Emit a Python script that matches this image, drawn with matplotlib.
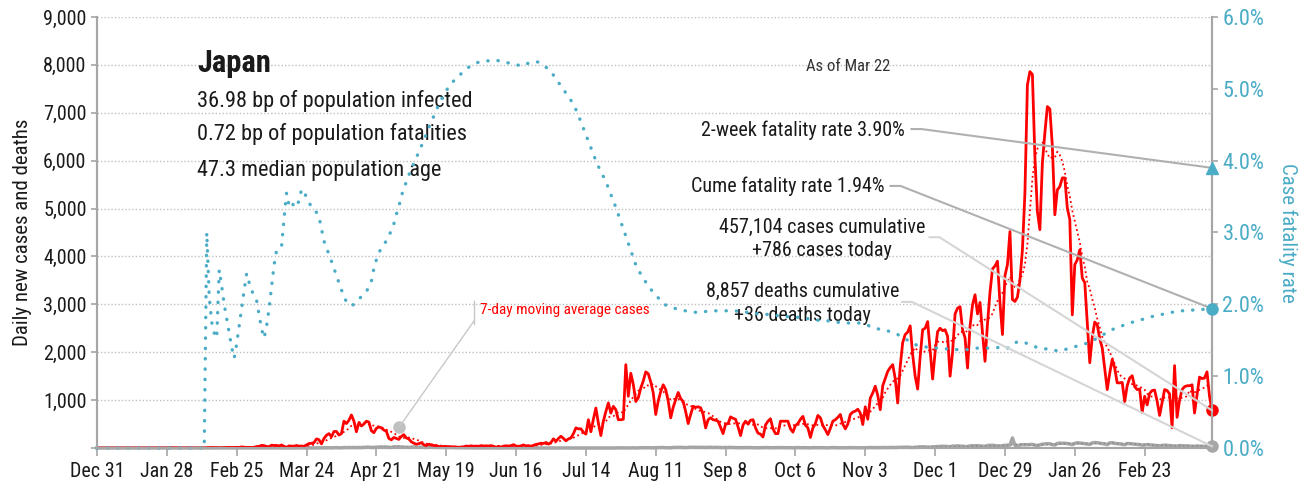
import matplotlib
matplotlib.use('Agg')
import matplotlib.pyplot as plt
from matplotlib.ticker import FuncFormatter, FixedLocator
import matplotlib.dates as mdates
import pandas as pd

# condensed sans, like the reference
plt.rcParams['font.family'] = ['Roboto Condensed', 'DejaVu Sans']

# daily new cases, Dec 31 2019 .. Mar 22 2021
cases_2019_12 = [0]
cases_2020_01 = [0, 0, 0, 0, 0, 0, 0, 0, 0, 0, 0, 0, 0, 0, 0, 1, 0, 0, 0, 0, 0, 0, 0, 1, 1, 1, 0, 2, 1, 4, 3]
cases_2020_02 = [1, 0, 0, 0, 2, 0, 0, 1, 0, 0, 0, 1, 5, 8, 9, 7, 6, 5, 4, 7, 12, 13, 9, 12, 14, 11, 22, 17, 12]
cases_2020_03 = [14, 10, 14, 30, 33, 55, 48, 32, 26, 59, 52, 54, 41, 64, 25, 15, 44, 39, 39, 52, 37, 42, 35, 65,
                 94, 96, 113, 190, 173, 86, 200]
cases_2020_04 = [266, 300, 235, 345, 345, 270, 300, 560, 510, 580, 690, 560, 340, 530, 460, 500, 560, 540, 360, 320,
                 410, 440, 420, 375, 350, 200, 170, 220, 200, 180]
cases_2020_05 = [240, 280, 210, 190, 130, 100, 80, 90, 110, 70, 50, 80, 60, 55, 40, 35, 20, 35, 25, 30, 20, 25, 20,
                 15, 20, 25, 40, 35, 45, 35, 40]
cases_2020_06 = [35, 50, 40, 45, 40, 50, 35, 15, 35, 20, 40, 45, 40, 50, 70, 40, 35, 45, 65, 40, 50, 35, 55, 75, 85,
                 100, 95, 115, 80, 115]
cases_2020_07 = [190, 140, 200, 245, 200, 150, 190, 210, 300, 420, 400, 400, 330, 290, 590, 340, 600, 835, 520, 260,
                 560, 760, 940, 730, 870, 800, 590, 590, 600, 1740, 1080]
cases_2020_08 = [1560, 1330, 970, 1050, 1250, 1400, 1590, 1550, 1380, 1150, 700, 980, 1180, 1320, 1220, 980, 630,
                 850, 1010, 1160, 1030, 970, 760, 510, 700, 870, 850, 860, 840, 700, 420]
cases_2020_09 = [590, 630, 590, 580, 560, 430, 300, 500, 510, 650, 620, 600, 440, 260, 480, 560, 500, 580, 590, 420,
                 310, 290, 230, 480, 560, 610, 400, 300, 300, 560]
cases_2020_10 = [560, 560, 560, 400, 330, 470, 510, 600, 660, 480, 420, 220, 420, 510, 680, 630, 470, 380, 280, 410,
                 560, 590, 640, 700, 500, 400, 500, 700, 750, 770, 810]
cases_2020_11 = [730, 490, 860, 600, 1040, 1150, 1290, 1100, 800, 1300, 1450, 1600, 1680, 1740, 1450, 940, 1700,
                 2200, 2370, 2420, 2550, 1950, 1500, 1230, 1900, 2470, 2500, 2640, 2050, 1440]
cases_2020_12 = [2000, 2430, 2500, 2450, 2470, 2330, 1500, 2000, 2800, 2920, 2950, 2470, 2300, 1670, 2540, 2990,
                 3200, 2800, 3040, 2400, 1810, 2600, 3250, 3740, 3800, 3900, 3030, 2370, 3600, 3830, 4520]
cases_2021_01 = [3100, 3060, 3150, 3500, 4140, 5320, 7580, 7860, 7800, 6090, 4940, 4560, 5950, 6580, 7130, 7080,
                 6300, 4870, 5390, 5460, 5640, 5640, 5010, 4770, 2780, 3830, 3930, 4140, 3550, 3450, 2600]
cases_2021_02 = [1780, 2320, 2630, 2570, 2280, 2090, 1660, 1220, 1560, 1850, 1670, 1360, 1360, 1370, 970, 1300,
                 1460, 1510, 1280, 1220, 1230, 740, 1080, 900, 1140, 1200, 1210, 980]
cases_2021_03 = [680, 950, 1220, 1200, 1130, 420, 1720, 640, 1000, 1220, 1280, 1300, 1300, 1320, 730, 1100, 1480,
                 1450, 1460, 1590, 1080, 786]

# daily deaths
deaths_2019_12 = [0]
deaths_2020_01 = [0, 0, 0, 0, 0, 0, 0, 0, 0, 0, 0, 0, 0, 0, 0, 0, 0, 0, 0, 0, 0, 0, 0, 0, 0, 0, 0, 0, 0, 0, 0]
deaths_2020_02 = [0, 0, 0, 0, 0, 0, 0, 0, 0, 0, 0, 0, 1, 0, 0, 0, 0, 0, 0, 1, 0, 1, 0, 0, 1, 1, 0, 1, 0]
deaths_2020_03 = [0, 1, 0, 1, 1, 1, 0, 0, 1, 0, 2, 3, 1, 2, 0, 1, 3, 1, 0, 2, 1, 0, 1, 2, 3, 1, 2, 1, 2, 4, 3]
deaths_2020_04 = [4, 5, 3, 6, 8, 4, 3, 9, 7, 11, 8, 12, 7, 10, 9, 13, 15, 18, 10, 12, 16, 20, 22, 19, 21, 14, 12,
                  25, 23, 26]
deaths_2020_05 = [20, 18, 14, 12, 16, 22, 19, 14, 17, 13, 10, 15, 21, 12, 11, 9, 8, 10, 13, 9, 11, 7, 6, 5, 8, 4, 6,
                  3, 5, 2, 3]
deaths_2020_06 = [2, 1, 3, 0, 2, 1, 0, 1, 2, 1, 0, 3, 1, 0, 2, 1, 1, 0, 2, 0, 1, 0, 1, 2, 0, 1, 1, 0, 0, 1]
deaths_2020_07 = [1, 0, 0, 1, 0, 1, 2, 0, 1, 0, 0, 1, 0, 1, 0, 0, 1, 0, 0, 1, 2, 0, 1, 1, 0, 0, 3, 2, 1, 2, 1]
deaths_2020_08 = [2, 3, 1, 4, 5, 6, 5, 7, 4, 3, 6, 8, 9, 10, 6, 5, 4, 11, 12, 14, 13, 10, 8, 12, 15, 14, 13, 12, 10,
                  9, 11]
deaths_2020_09 = [12, 14, 11, 13, 10, 9, 8, 11, 10, 12, 9, 8, 6, 7, 10, 11, 9, 7, 6, 5, 4, 6, 8, 9, 7, 6, 5, 8, 9, 8]
deaths_2020_10 = [7, 6, 5, 8, 4, 6, 9, 5, 7, 6, 4, 3, 8, 6, 5, 7, 6, 4, 3, 7, 8, 6, 5, 4, 5, 3, 8, 7, 6, 5, 6]
deaths_2020_11 = [5, 4, 6, 7, 9, 8, 5, 6, 7, 10, 9, 8, 12, 10, 9, 13, 15, 14, 16, 17, 12, 11, 14, 20, 22, 25, 21, 18,
                  17, 24]
deaths_2020_12 = [28, 30, 33, 37, 35, 32, 25, 40, 38, 45, 39, 36, 30, 28, 44, 48, 46, 50, 42, 38, 35, 52, 55, 58, 50,
                  45, 40, 48, 56, 60, 62]
deaths_2021_01 = [210, 55, 48, 60, 70, 65, 68, 72, 75, 60, 50, 66, 80, 85, 90, 88, 70, 62, 95, 102, 98, 100, 92, 85,
                  70, 95, 110, 105, 98, 90, 80]
deaths_2021_02 = [75, 105, 115, 110, 100, 92, 85, 70, 105, 112, 98, 90, 88, 76, 68, 95, 92, 85, 80, 75, 70, 58, 62,
                  72, 66, 60, 55, 50]
deaths_2021_03 = [45, 52, 60, 55, 48, 44, 40, 38, 50, 48, 42, 45, 40, 38, 35, 42, 40, 38, 36, 34, 30, 36]

# case fatality rate (%), right axis
cfr_2019_12 = [0]
cfr_2020_01 = [0, 0, 0, 0, 0, 0, 0, 0, 0, 0, 0, 0, 0, 0, 0, 0, 0, 0, 0, 0, 0, 0, 0, 0, 0, 0, 0, 0, 0, 0, 0]
cfr_2020_02 = [0, 0, 0, 0, 0, 0, 0, 0, 0, 0, 0, 0, 3.00, 2.10, 1.75, 1.60, 1.53, 2.48, 2.25, 2.00, 1.80, 1.60, 1.40,
               1.25, 1.45, 1.70, 1.95, 2.20, 2.43]
cfr_2020_03 = [2.30, 2.20, 2.10, 2.05, 1.85, 1.65, 1.53, 1.70, 1.95, 2.25, 2.55, 2.75, 2.80, 2.81, 3.20, 3.55, 3.38,
               3.43, 3.36, 3.35, 3.45, 3.60, 3.58, 3.48, 3.42, 3.35, 3.30, 3.28, 3.22, 3.05, 2.88]
cfr_2020_04 = [2.78, 2.70, 2.60, 2.50, 2.40, 2.30, 2.20, 2.12, 2.03, 2.00, 1.98, 2.00, 2.03, 2.07, 2.11, 2.14, 2.18,
               2.24, 2.32, 2.50, 2.62, 2.72, 2.78, 2.84, 2.88, 2.95, 3.03, 3.12, 3.25, 3.36]
cfr_2020_05 = [3.50, 3.62, 3.70, 3.80, 3.88, 3.96, 4.04, 4.12, 4.20, 4.28, 4.37, 4.46, 4.54, 4.62, 4.70, 4.78, 4.85,
               4.91, 4.97, 5.03, 5.07, 5.11, 5.15, 5.18, 5.21, 5.24, 5.27, 5.30, 5.32, 5.34, 5.36]
cfr_2020_06 = [5.37, 5.38, 5.38, 5.39, 5.39, 5.40, 5.40, 5.40, 5.39, 5.39, 5.38, 5.37, 5.36, 5.35, 5.34, 5.33, 5.33,
               5.32, 5.32, 5.34, 5.36, 5.37, 5.38, 5.38, 5.37, 5.35, 5.33, 5.30, 5.27, 5.24]
cfr_2020_07 = [5.19, 5.14, 5.09, 5.04, 4.99, 4.94, 4.89, 4.84, 4.78, 4.71, 4.63, 4.54, 4.45, 4.36, 4.27, 4.18, 4.09,
               4.00, 3.92, 3.85, 3.78, 3.71, 3.62, 3.53, 3.44, 3.35, 3.25, 3.15, 3.05, 2.95, 2.85]
cfr_2020_08 = [2.75, 2.65, 2.55, 2.48, 2.42, 2.36, 2.31, 2.26, 2.21, 2.17, 2.13, 2.09, 2.05, 2.01, 1.99, 1.97, 1.96,
               1.95, 1.94, 1.93, 1.92, 1.91, 1.91, 1.90, 1.90, 1.89, 1.89, 1.89, 1.89, 1.89, 1.90]
cfr_2020_09 = [1.90, 1.91, 1.91, 1.91, 1.91, 1.91, 1.91, 1.91, 1.91, 1.91, 1.91, 1.91, 1.90, 1.90, 1.90, 1.89, 1.89,
               1.88, 1.88, 1.87, 1.87, 1.87, 1.86, 1.86, 1.86, 1.85, 1.85, 1.85, 1.84, 1.84]
cfr_2020_10 = [1.84, 1.83, 1.83, 1.83, 1.82, 1.82, 1.82, 1.81, 1.81, 1.80, 1.80, 1.79, 1.79, 1.78, 1.78, 1.78, 1.77,
               1.77, 1.77, 1.76, 1.76, 1.76, 1.75, 1.75, 1.75, 1.75, 1.74, 1.74, 1.74, 1.74, 1.74]
cfr_2020_11 = [1.74, 1.73, 1.72, 1.71, 1.69, 1.68, 1.67, 1.66, 1.65, 1.64, 1.64, 1.63, 1.62, 1.61, 1.60, 1.58, 1.56,
               1.54, 1.52, 1.50, 1.48, 1.46, 1.44, 1.43, 1.42, 1.41, 1.41, 1.40, 1.40, 1.40]
cfr_2020_12 = [1.39, 1.39, 1.39, 1.39, 1.38, 1.38, 1.38, 1.37, 1.37, 1.37, 1.37, 1.37, 1.37, 1.37, 1.38, 1.38, 1.39,
               1.39, 1.39, 1.39, 1.39, 1.39, 1.39, 1.40, 1.40, 1.40, 1.39, 1.38, 1.38, 1.39, 1.41]
cfr_2021_01 = [1.43, 1.46, 1.48, 1.48, 1.48, 1.47, 1.45, 1.43, 1.42, 1.41, 1.40, 1.39, 1.39, 1.38, 1.38, 1.37, 1.37,
               1.36, 1.35, 1.35, 1.36, 1.37, 1.38, 1.39, 1.40, 1.41, 1.42, 1.43, 1.44, 1.45, 1.46]
cfr_2021_02 = [1.47, 1.49, 1.51, 1.53, 1.55, 1.57, 1.59, 1.61, 1.63, 1.65, 1.66, 1.68, 1.69, 1.70, 1.72, 1.73, 1.74,
               1.75, 1.76, 1.77, 1.78, 1.79, 1.80, 1.81, 1.82, 1.83, 1.84, 1.85]
cfr_2021_03 = [1.86, 1.86, 1.87, 1.88, 1.88, 1.89, 1.89, 1.90, 1.90, 1.91, 1.91, 1.92, 1.92, 1.92, 1.92, 1.93, 1.93,
               1.93, 1.93, 1.94, 1.94, 1.94]

two_week_cfr = 3.90
cume_cfr = 1.94
ma_anchor_date = '2020-04-30'   # grey dot used by the "7-day moving average" callout
ma_anchor_value = 445

tick_dates = pd.date_range('2019-12-31', periods=16, freq='28D')

months = ['2019_12', '2020_01', '2020_02', '2020_03', '2020_04', '2020_05', '2020_06', '2020_07', '2020_08',
          '2020_09', '2020_10', '2020_11', '2020_12', '2021_01', '2021_02', '2021_03']
g = globals()
dates = pd.date_range('2019-12-31', '2021-03-22')
cases = pd.Series(sum((g['cases_' + m] for m in months), []), index=dates)
deaths = pd.Series(sum((g['deaths_' + m] for m in months), []), index=dates)
cfr = pd.Series(sum((g['cfr_' + m] for m in months), []), index=dates)
cases_ma = cases.rolling(7, min_periods=1).mean()
deaths_ma = deaths.rolling(7, min_periods=1).mean()

RED = '#FF0000'
TEAL = '#4BACC6'
GREY = '#A6A6A6'
TXT = '#1A1A1A'

fig = plt.figure(figsize=(13.06, 4.88), dpi=100)
ax = fig.add_axes([0.07427, 0.08197, 0.85375, 0.88320])
ax2 = ax.twinx()

ax.plot(dates, deaths, color=GREY, lw=2.5, clip_on=False, zorder=3)
ax.plot(dates, deaths_ma, color='#8C8C8C', lw=1.2, ls=':', zorder=3)
ax.plot(dates, cases, color=RED, lw=2.0, zorder=4)
ax.plot(dates, cases_ma, color=RED, lw=1.3, ls=':', zorder=4)
ax.plot(dates[-1], cases.iloc[-1], 'o', color=RED, ms=8, clip_on=False, zorder=6)
ax.plot(dates[-1], deaths.iloc[-1], 'o', color=GREY, ms=8, clip_on=False, zorder=6)
ax.plot(pd.Timestamp(ma_anchor_date), ma_anchor_value, 'o', color='#C0C0C0', ms=8, zorder=6)

ax2.plot(dates, cfr, color=TEAL, lw=2.4, ls=(0, (0.1, 3.0)), dash_capstyle='round', clip_on=False)
ax2.plot(dates[-1], cume_cfr, 'o', color=TEAL, ms=8, clip_on=False, zorder=6)
ax2.plot(dates[-1], two_week_cfr, '^', color=TEAL, ms=9, clip_on=False, zorder=6)

ax.set_xlim(dates[0], dates[-1])
ax.set_ylim(0, 9000)
ax2.set_ylim(0, 6)

ax.xaxis.set_major_locator(FixedLocator(mdates.date2num(tick_dates)))
ax.xaxis.set_major_formatter(FuncFormatter(
    lambda v, p: mdates.num2date(v).strftime('%b ') + str(mdates.num2date(v).day)))
ax.set_yticks(range(0, 9001, 1000))
ax.yaxis.set_major_formatter(FuncFormatter(lambda v, p: '' if v == 0 else f'{v:,.0f}'))
ax2.set_yticks([0, 1, 2, 3, 4, 5, 6])
ax2.yaxis.set_major_formatter(FuncFormatter(lambda v, p: f'{v:.1f}%'))

ax.yaxis.grid(True, color='#BFBFBF', lw=1, ls=(0, (1, 1.5)))
ax.set_axisbelow(True)
for a in (ax, ax2):
    a.spines['top'].set_visible(False)
    for s in ('left', 'right', 'bottom'):
        a.spines[s].set_color(GREY)
        a.spines[s].set_linewidth(1.5)
ax.tick_params(axis='x', length=6, width=1.2, color=GREY, labelsize=14.5, labelcolor=TXT, pad=4)
ax.tick_params(axis='y', length=4, width=1.2, color=GREY, labelsize=14.5, labelcolor=TXT)
ax2.tick_params(axis='y', length=4, width=1.2, color=GREY, labelsize=16, labelcolor=TEAL)
ax.set_ylabel('Daily new cases and deaths', fontsize=15, color=TXT, labelpad=8)
ax2.set_ylabel('Case fatality rate', fontsize=15, color=TEAL, rotation=270, labelpad=24)

T = ax.transAxes
ax.text(0.0897, 0.893, 'Japan', transform=T, fontsize=22, fontweight='bold', color=TXT, va='center')
ax.text(0.0897, 0.805, '36.98 bp of population infected', transform=T, fontsize=16, color=TXT, va='center')
ax.text(0.0897, 0.7285, '0.72 bp of population fatalities', transform=T, fontsize=16, color=TXT, va='center')
ax.text(0.0897, 0.645, '47.3 median population age', transform=T, fontsize=16, color=TXT, va='center')
ax.text(0.6735, 0.884, 'As of Mar 22', transform=T, fontsize=12, color='#333333', ha='center', va='center')

ax.text(0.7247, 0.738, '2-week fatality rate 3.90%', transform=T, fontsize=14.5, color=TXT, ha='right', va='center')
ax.text(0.7067, 0.608, 'Cume fatality rate 1.94%', transform=T, fontsize=14.5, color=TXT, ha='right', va='center')
ax.text(0.650, 0.485, '457,104 cases cumulative\n+786 cases today', transform=T, fontsize=14.5, color=TXT,
        ha='center', va='center', linespacing=1.3)
ax.text(0.633, 0.335, '8,857 deaths cumulative\n+36 deaths today', transform=T, fontsize=14.5, color=TXT,
        ha='center', va='center', linespacing=1.3)
ax.text(0.3435, 0.3202, '7-day moving average cases', transform=T, fontsize=11, color=RED, va='center')

# callout leader lines (axes fraction), stub then straight to the end markers
T2 = ax2.transAxes
def leader(x0, y0, y1, color):
    ax2.plot([x0, x0 + 0.009, 1.0], [y0, y0, y1], color=color, lw=1.5, transform=T2, clip_on=False, zorder=5)
leader(0.7305, 0.740, two_week_cfr / 6, '#B0B0B0')
leader(0.7117, 0.608, cume_cfr / 6, '#B0B0B0')
leader(0.7466, 0.489, cases.iloc[-1] / 9000, '#D5D5D5')
leader(0.7219, 0.339, deaths.iloc[-1] / 9000, '#D5D5D5')
ax2.plot([0.3381, 0.3381], [0.341, 0.2877], color='#C8C8C8', lw=1, transform=T2)
ax2.plot([0.3381, 0.2713], [0.2947, ma_anchor_value / 9000], color='#C8C8C8', lw=1, transform=T2)

fig.savefig('out.png', dpi=100)
